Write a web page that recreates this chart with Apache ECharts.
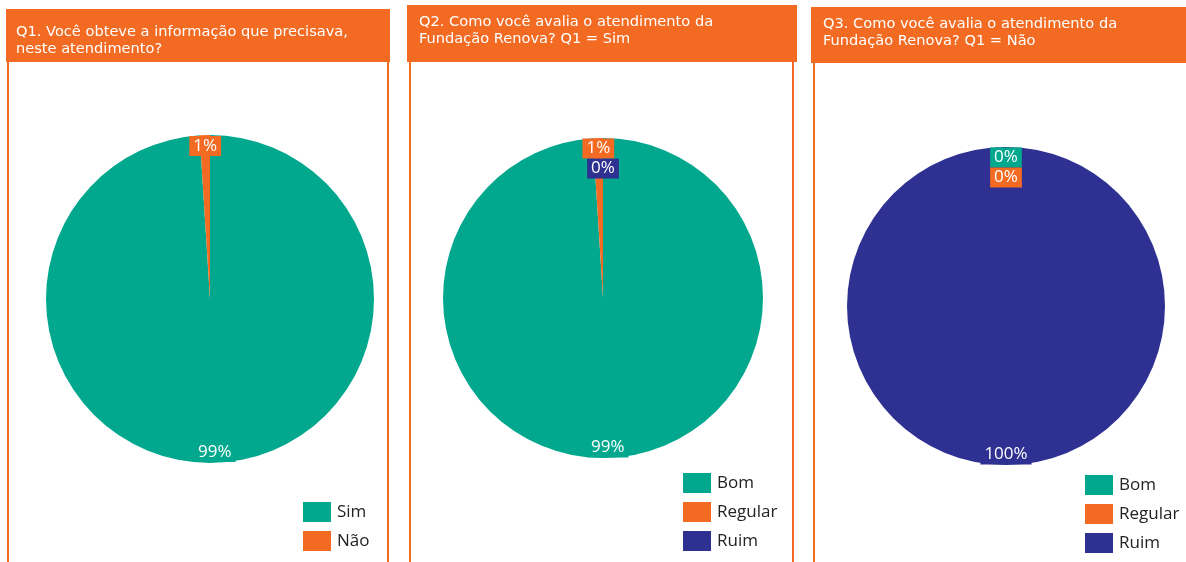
<!DOCTYPE html>
<html>
<head>
<meta charset="utf-8">
<script src="https://cdn.jsdelivr.net/npm/echarts@6/dist/echarts.min.js"></script>
<style>
html,body{margin:0;padding:0;background:#fff;}
#chart{width:1186px;height:562px;}
</style>
</head>
<body>
<div id="chart"></div>
<script>
// ---- Data ----
var q1Title = 'Q1. Você obteve a informação que precisava,\nneste atendimento?';
var q1Categories = ['Sim', 'Não'];
var q1Values = [99, 1];

var q2Title = 'Q2. Como você avalia o atendimento da\nFundação Renova? Q1 = Sim';
var q2Categories = ['Bom', 'Regular', 'Ruim'];
var q2Values = [99, 1, 0];

var q3Title = 'Q3. Como você avalia o atendimento da\nFundação Renova? Q1 = Não';
var q3Categories = ['Bom', 'Regular', 'Ruim'];
var q3Values = [0, 0, 100];

var palette = ['#01A88E', '#F36A22', '#2E3192'];

// ---- Chart ----
var chart = echarts.init(document.getElementById('chart'), null, {renderer: 'canvas'});
var ORANGE = '#F36A22';
var labelFont = '"Open Sans", "Noto Sans", sans-serif';

// push a label down below earlier labels of the same series it would overlap
var placed = {};
function avoidOverlap(p) {
  var key = p.seriesIndex;
  if (p.dataIndex === 0 || !placed[key]) placed[key] = [];
  var lr = p.labelRect;
  var r = {x: lr.x, y: lr.y, w: lr.width, h: lr.height};
  var dy = 0;
  placed[key].forEach(function (q) {
    var y = r.y + dy;
    if (r.x < q.x + q.w && r.x + r.w > q.x && y < q.y + q.h && y + r.h > q.y) {
      dy = q.y + q.h - r.y;
    }
  });
  placed[key].push({x: r.x, y: r.y + dy, w: r.w, h: r.h});
  return {dy: dy};
}

function mkData(cats, vals) {
  return cats.map(function (c, i) {
    return {name: c, value: vals[i], itemStyle: {color: palette[i]}};
  });
}
function mkLabelData(cats, vals) {
  return cats.map(function (c, i) {
    return {
      name: c, value: vals[i],
      itemStyle: {color: 'rgba(0,0,0,0)'},
      label: {backgroundColor: palette[i]}
    };
  });
}
function pieSeries(cats, vals, center, r) {
  return [{
    type: 'pie', center: center, radius: [0, r], startAngle: 90, clockwise: true,
    silent: true, label: {show: false}, labelLine: {show: false},
    itemStyle: {borderWidth: 0},
    data: mkData(cats, vals)
  }, {
    type: 'pie', center: center, radius: [Math.round(r * 0.83), r], startAngle: 90, clockwise: true,
    silent: true, labelLine: {show: false},
    label: {
      show: true, position: 'inside', color: '#fff', fontSize: 17,
      fontFamily: labelFont, padding: [0, 4, 0, 4], lineHeight: 20,
      formatter: function (p) { return p.value + '%'; }
    },
    labelLayout: avoidOverlap,
    data: mkLabelData(cats, vals)
  }];
}
function legend(cats, left, top) {
  return {
    orient: 'vertical', left: left, top: top, icon: 'rect', padding: 0,
    itemWidth: 28, itemHeight: 20, itemGap: 9,
    selectedMode: false,
    textStyle: {fontSize: 17, color: '#222', fontFamily: labelFont, padding: [0, 0, 0, 1]},
    data: cats
  };
}
function title(text, left, top) {
  return {
    text: text, left: left, top: top, padding: 0,
    textStyle: {color: '#fff', fontSize: 14.6, fontWeight: 'normal',
      fontFamily: '"DejaVu Sans", Verdana, sans-serif', lineHeight: 17}
  };
}
function panelGraphics() {
  var g = [];
  function rect(x, y, w, h) {
    g.push({type: 'rect', shape: {x: x, y: y, width: w, height: h}, style: {fill: ORANGE}, z: -1});
  }
  function vline(x, y1, y2) {
    g.push({type: 'line', shape: {x1: x, y1: y1, x2: x, y2: y2}, style: {stroke: ORANGE, lineWidth: 2}, z: -1});
  }
  rect(6, 9, 384, 53); vline(8, 62, 562); vline(388, 62, 562);
  rect(407, 5, 390, 57); vline(410, 62, 562); vline(793, 62, 562);
  rect(811, 7, 375, 56); vline(814, 63, 562);
  return g;
}

var option = {
  animation: false,
  backgroundColor: '#fff',
  graphic: panelGraphics(),
  title: [title(q1Title, 16, 24), title(q2Title, 419, 14), title(q3Title, 823, 16)],
  legend: [legend(q1Categories, 303, 502), legend(q2Categories, 683, 473), legend(q3Categories, 1085, 475)],
  series: [].concat(
    pieSeries(q1Categories, q1Values, [210, 299], 164),
    pieSeries(q2Categories, q2Values, [603, 298], 160),
    pieSeries(q3Categories, q3Values, [1006, 306], 159)
  )
};
chart.setOption(option);
</script>
</body>
</html>
